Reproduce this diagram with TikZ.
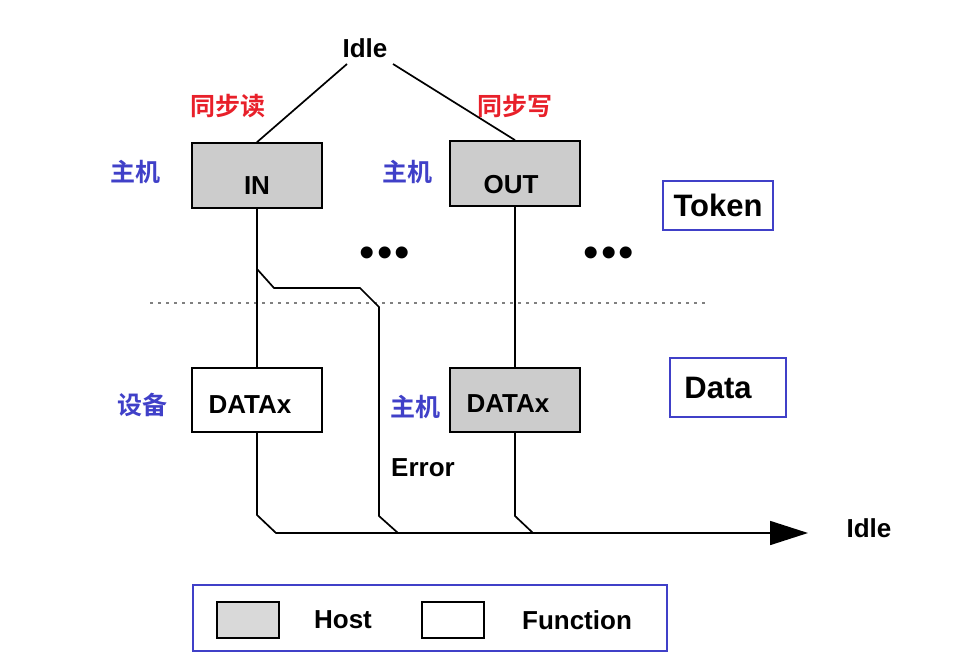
\documentclass[tikz,border=0pt]{standalone}
\usepackage{fontspec}
\setmainfont{Liberation Sans}
\newfontfamily\cjk{Noto Sans CJK SC}[BoldFont={* Bold}]
\usetikzlibrary{arrows.meta}
\definecolor{lblue}{RGB}{64,64,200}
\definecolor{lred}{RGB}{232,32,42}
\definecolor{hostgray}{RGB}{204,204,204}
\definecolor{leggray}{RGB}{217,217,217}
\tikzset{
  txt/.style={font=\fontsize{26}{30}\selectfont\bfseries, inner sep=0pt},
  bigtxt/.style={font=\fontsize{31}{36}\selectfont\bfseries, inner sep=0pt},
  cjkred/.style={font=\cjk\fontsize{25}{30}\selectfont\bfseries, text=lred, inner sep=0pt},
  cjkblue/.style={font=\cjk\fontsize{25}{30}\selectfont\bfseries, text=lblue, inner sep=0pt},
  hostbox/.style={draw=black, line width=1.7pt, fill=hostgray, minimum width=130pt, minimum height=65pt, inner sep=0pt},
  funcbox/.style={draw=black, line width=1.7pt, fill=white, minimum width=130pt, minimum height=64pt, inner sep=0pt},
  bluebox/.style={draw=lblue, line width=2.2pt, inner sep=0pt},
  wire/.style={draw=black, line width=1.7pt},
  dotsty/.style={font=\fontsize{44}{46}\selectfont, inner sep=0pt},
}
\begin{document}
\begin{tikzpicture}[x=1pt,y=-1pt]
\useasboundingbox (0,0) rectangle (976,660);
% top
\node[txt] (idle) at (365,48) {Idle};
\coordinate (idleL) at (347,64);
\coordinate (idleR) at (393,64);
\node[cjkred] (rd) at (228,106) {同步读};
\node[cjkred] (wr) at (515,106) {同步写};
% token boxes
\node[hostbox] (in) at (257,175.5) {};
\node[txt] (intxt) at (257,186) {IN};
\node[hostbox] (out) at (515,173.5) {};
\node[txt] (outtxt) at (511,185) {OUT};
\node[cjkblue] (h1) at (135,172) {主机};
\node[cjkblue] (h2) at (407,172) {主机};
% data boxes
\node[funcbox] (dl) at (257,400) {};
\node[txt] (dltxt) at (250,405) {DATAx};
\node[hostbox, minimum height=64pt] (dr) at (515,400) {};
\node[txt] (drtxt) at (508,404) {DATAx};
\node[cjkblue] (dev) at (142,405) {设备};
\node[cjkblue] (h3) at (415,407) {主机};
% dots
\node[dotsty] (dots1) at (385,257) {•\kern2pt•\kern2pt•};
\node[dotsty] (dots2) at (609,257) {•\kern2pt•\kern2pt•};
% Token / Data
\node[bluebox, minimum width=110pt, minimum height=49pt] (tok) at (718,205.5) {};
\node[bigtxt] (toktxt) at (tok) {Token};
\node[bluebox, minimum width=116pt, minimum height=59pt] (dat) at (728,387.5) {};
\node[bigtxt] (dattxt) at (718,388) {Data};
% dotted separator
\coordinate (sepL) at (150,303);
\coordinate (sepR) at (705,303);
\draw[gray, line width=1.3pt, dash pattern=on 3pt off 5pt] (sepL) -- (sepR);
% Error
\node[txt] (err) at (423,468) {Error};
% right idle
\node[txt] (idle2) at (869,528) {Idle};
% connectors
\draw[wire] (idleL) -- (in.north);
\draw[wire] (idleR) -- (out.north);
\draw[wire] (in.south) -- (dl.north);
\draw[wire] (out.south) -- (dr.north);
\coordinate (b1) at (257,269);
\draw[wire] (b1) -- (274,288) -- (360,288) -- (379,307) -- (379,516) -- (398,533);
\coordinate (arrowEnd) at (808,533);
\draw[wire, -{Triangle[length=38pt,width=24pt]}] (dl.south) -- (257,515) -- (276,533) -- (arrowEnd);
\draw[wire] (dr.south) -- (515,516) -- (533,533);
% legend
\node[bluebox, minimum width=474pt, minimum height=66pt] (leg) at (430,618) {};
\node[draw=black, line width=1.7pt, fill=leggray, minimum width=62pt, minimum height=36pt, inner sep=0pt] (lh) at (248,620) {};
\node[txt] (lht) at (343,620) {Host};
\node[draw=black, line width=1.7pt, fill=white, minimum width=62pt, minimum height=36pt, inner sep=0pt] (lf) at (453,620) {};
\node[txt] (lft) at (577,620) {Function};
\end{tikzpicture}
\end{document}
